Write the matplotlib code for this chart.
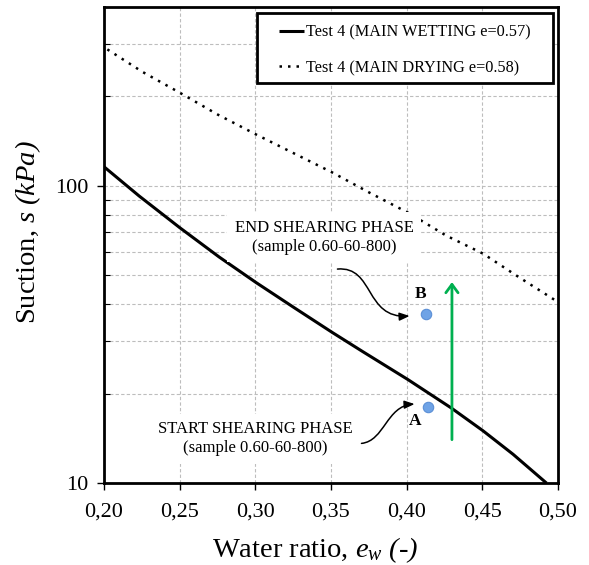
import matplotlib.pyplot as plt
from matplotlib.path import Path
from matplotlib.patches import FancyArrowPatch, Rectangle
from matplotlib.ticker import FixedLocator, FixedFormatter, NullFormatter, LogLocator

plt.rcParams['font.family'] = 'Liberation Serif'
plt.rcParams['mathtext.fontset'] = 'custom'
# symbols in the axis titles are all set in italics
plt.rcParams['mathtext.rm'] = 'Liberation Serif:italic'
plt.rcParams['mathtext.it'] = 'Liberation Serif:italic'

# main wetting / drying curves (water ratio vs suction in kPa)
wet_ew = [0.20, 0.2232, 0.25, 0.276, 0.3005, 0.3258, 0.351, 0.371, 0.4009, 0.4295, 0.4505, 0.4704, 0.4925]
wet_s = [116, 92.5, 72.4, 57.7, 47.3, 38.9, 32.1, 27.7, 22.3, 17.9, 15.0, 12.5, 10]
dry_ew = [0.2022, 0.2254, 0.25, 0.275, 0.3005, 0.351, 0.3755, 0.4009, 0.4263, 0.4505, 0.4748, 0.499]
dry_s = [288, 242, 206, 174, 149, 110.9, 94.9, 81.3, 68, 59.2, 49.1, 41.0]

# shearing phase points
pt_labels = ['A', 'B']
pt_ew = [0.414, 0.413]
pt_s = [18.0, 37.0]

# suction increase during shearing
arrow_ew = 0.43
arrow_s = [13.7, 48.5]

x_ticks = [0.20, 0.25, 0.30, 0.35, 0.40, 0.45, 0.50]
x_tick_labels = ['0,20', '0,25', '0,30', '0,35', '0,40', '0,45', '0,50']

fig = plt.figure(figsize=(5.89, 5.65), dpi=100)
ax = fig.add_axes([0.1766, 0.145, 0.7705, 0.8426])

ax.plot(wet_ew, wet_s, color='black', lw=2.2, solid_capstyle='butt',
        solid_joinstyle='round', label='Test 4 (MAIN WETTING e=0.57)', zorder=3)
ax.plot(dry_ew, dry_s, color='black', lw=1.8, linestyle=(0, (1, 2.4)),
        label='Test 4 (MAIN DRYING e=0.58)', zorder=3)

ax.plot(pt_ew, pt_s, 'o', ms=7.5, color='#6fa3e6', mec='#5b8fd6', mew=0.8, zorder=5)
ax.text(0.4053, 16.2, pt_labels[0], ha='center', va='center',
        fontsize=12.5, fontweight='bold', zorder=6)
ax.text(0.4093, 43.3, pt_labels[1], ha='center', va='center',
        fontsize=12.5, fontweight='bold', zorder=6)

green = FancyArrowPatch((arrow_ew, arrow_s[0]), (arrow_ew, arrow_s[1]),
                        arrowstyle='->,head_length=0.3,head_width=0.22',
                        mutation_scale=20, color='#00b050', lw=2, zorder=4)
ax.add_patch(green)

box = dict(boxstyle='square,pad=0.45', facecolor='white', edgecolor='none')
ax.text(0.3457, 67.1, 'END SHEARING PHASE\n(sample 0.60-60-800)', ha='center',
        va='center', fontsize=12, linespacing=1.25, bbox=box, zorder=4)
ax.text(0.300, 14.1, 'START SHEARING PHASE\n(sample 0.60-60-800)', ha='center',
        va='center', fontsize=12, linespacing=1.25, bbox=box, zorder=4)

# curved pointers to the two points
end_path = Path([(0.3543, 52.5), (0.3788, 53.8), (0.3722, 35.7), (0.402, 36.5)],
                [Path.MOVETO, Path.CURVE4, Path.CURVE4, Path.CURVE4])
start_path = Path([(0.3702, 13.6), (0.3854, 13.85), (0.3867, 18.2), (0.4053, 18.45)],
                  [Path.MOVETO, Path.CURVE4, Path.CURVE4, Path.CURVE4])
for p in (end_path, start_path):
    ax.add_patch(FancyArrowPatch(path=p, arrowstyle='-|>,head_length=0.5,head_width=0.2',
                                 mutation_scale=12, color='black', lw=1.1,
                                 transform=ax.transData, zorder=5))

ax.set_yscale('log')
ax.set_xlim(0.20, 0.50)
ax.set_ylim(10, 400)
ax.xaxis.set_major_locator(FixedLocator(x_ticks))
ax.xaxis.set_major_formatter(FixedFormatter(x_tick_labels))
ax.yaxis.set_major_locator(FixedLocator([10, 100]))
ax.yaxis.set_major_formatter(FixedFormatter(['10', '100']))
ax.yaxis.set_minor_locator(LogLocator(base=10, subs=range(2, 10)))
ax.yaxis.set_minor_formatter(NullFormatter())

ax.tick_params(axis='both', which='major', direction='out', length=5, width=1,
               labelsize=16)
ax.tick_params(axis='x', which='major', pad=9)
ax.tick_params(axis='y', which='major', pad=6)
ax.tick_params(axis='y', which='minor', direction='in', length=4, width=0.8)

ax.grid(True, which='major', axis='x', color='#bdbdbd', linestyle=(0, (3, 2)), lw=0.8)
ax.grid(True, which='both', axis='y', color='#bdbdbd', linestyle=(0, (3, 2)), lw=0.8)
ax.set_axisbelow(True)

for s in ax.spines.values():
    s.set_linewidth(2)

ax.set_xlabel(r'Water ratio, $e_w\ (\text{-})$', fontsize=20.5)
ax.set_ylabel(r'Suction, $s\ (kPa)$', fontsize=20.5)
ax.xaxis.set_label_coords(0.465, -0.109)
ax.yaxis.set_label_coords(-0.134, 0.527)

# legend with its own frame
ax.add_patch(Rectangle((0.337, 0.840), 0.652, 0.147, transform=ax.transAxes,
                       facecolor='white', edgecolor='black', lw=2, zorder=9))
leg = ax.legend(loc='center', bbox_to_anchor=(0.663, 0.909), fontsize=11.7,
                frameon=False, handlelength=1.5, handletextpad=0.15,
                labelspacing=1.2, borderpad=0)
leg.set_zorder(10)

fig.savefig('out.png', dpi=100, facecolor='white')
